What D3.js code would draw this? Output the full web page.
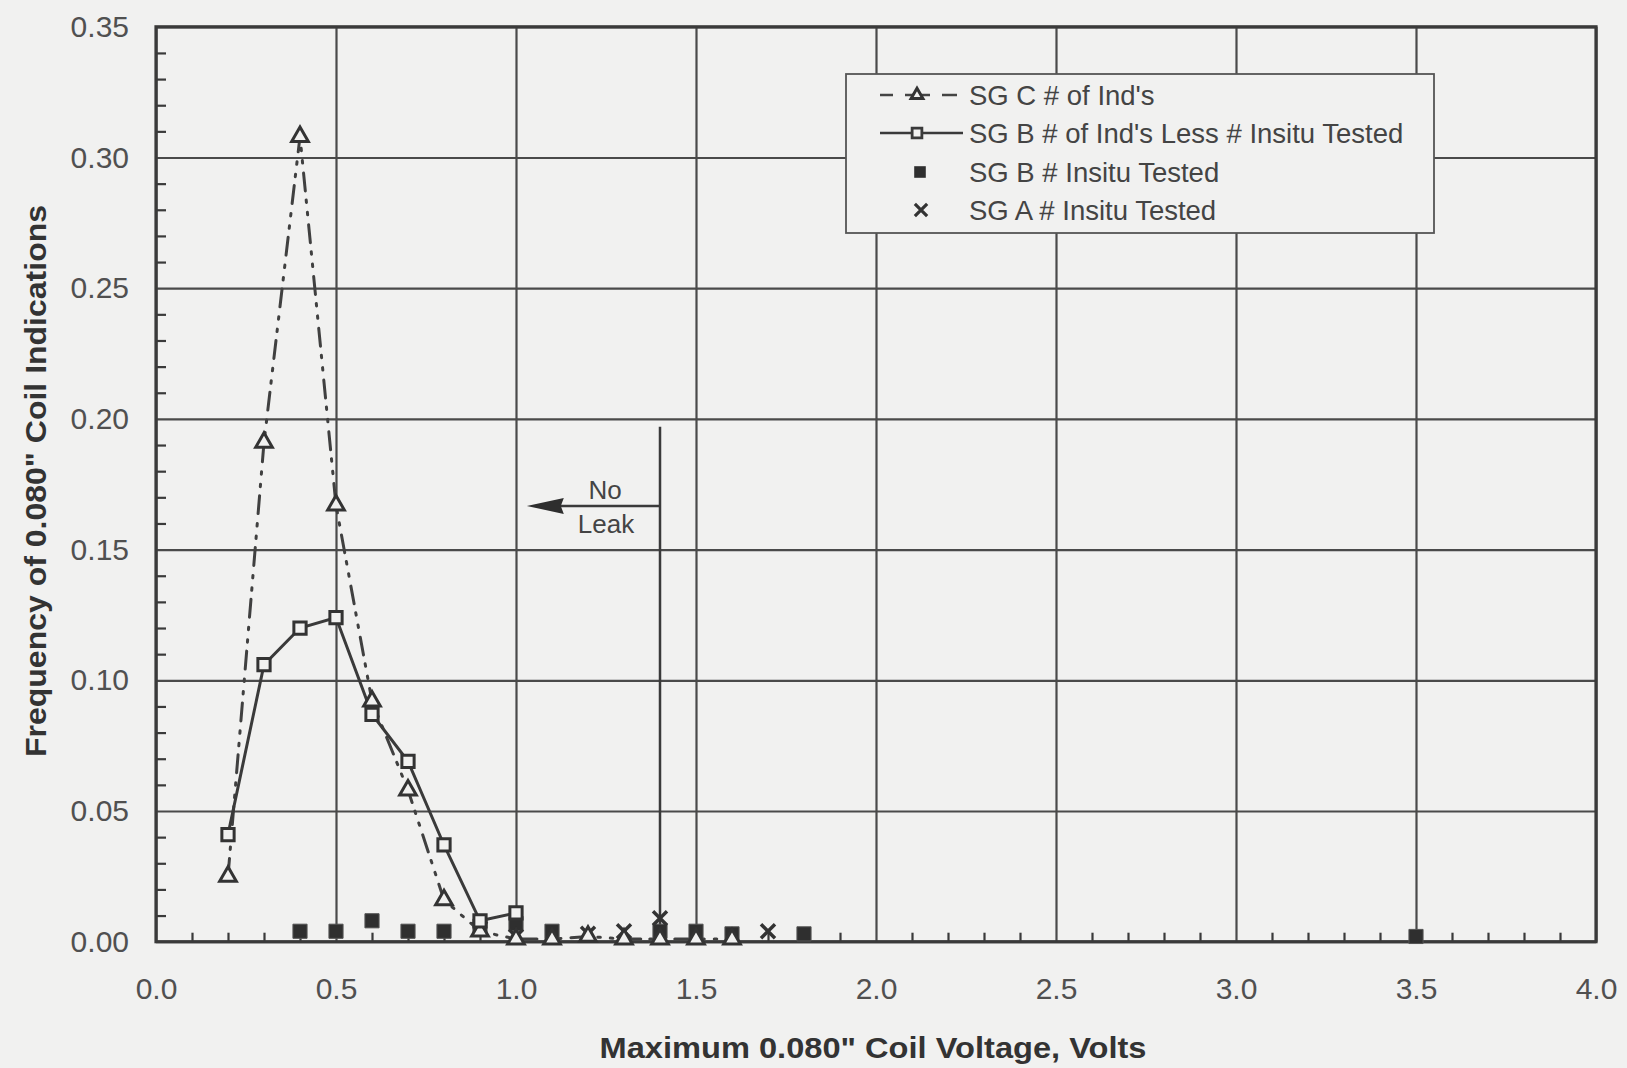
<!DOCTYPE html>
<html>
<head>
<meta charset="utf-8">
<script src="https://cdn.jsdelivr.net/npm/d3@7"></script>
<style>
  body { margin: 0; background: #f1f1f0; }
  svg { display: block; }
  text { font-family: "Liberation Sans", Arial, sans-serif; }
</style>
</head>
<body>
<div id="graphContainer"></div>
<script>
// frequency of 0.080" coil indications vs max voltage

// data
var sgCVolts = [0.2, 0.3, 0.4, 0.5, 0.6, 0.7, 0.8, 0.9, 1.0, 1.1, 1.2, 1.3, 1.4, 1.5, 1.6];
var sgCFreq  = [0.025, 0.191, 0.308, 0.167, 0.092, 0.058, 0.016, 0.004, 0.001, 0.001, 0.002, 0.001, 0.001, 0.001, 0.001];

var sgBVolts = [0.2, 0.3, 0.4, 0.5, 0.6, 0.7, 0.8, 0.9, 1.0];
var sgBFreq  = [0.041, 0.106, 0.120, 0.124, 0.087, 0.069, 0.037, 0.008, 0.011];

var sgBInsituVolts = [0.4, 0.5, 0.6, 0.7, 0.8, 0.9, 1.0, 1.1, 1.4, 1.5, 1.6, 1.8, 3.5];
var sgBInsituFreq  = [0.004, 0.004, 0.008, 0.004, 0.004, 0.006, 0.007, 0.004, 0.004, 0.004, 0.003, 0.003, 0.002];

var sgAInsituVolts = [0.9, 1.0, 1.2, 1.3, 1.4, 1.7];
var sgAInsituFreq  = [0.005, 0.002, 0.003, 0.004, 0.009, 0.004];

var xTicks = [0.0, 0.5, 1.0, 1.5, 2.0, 2.5, 3.0, 3.5, 4.0];
var yTicks = [0.00, 0.05, 0.10, 0.15, 0.20, 0.25, 0.30, 0.35];

var legendLabels = [
    "SG C # of Ind's",
    "SG B # of Ind's Less # Insitu Tested",
    "SG B # Insitu Tested",
    "SG A # Insitu Tested"
];

// no leak annotation
var noLeakVolts = 1.4;
var noLeakTop = 0.197;
var noLeakArrowY = 0.1667;
var noLeakArrowTo = 1.03;

var W = 1627, H = 1068;
var pLeft = 156, pRight = 1596, pTop = 26.8, pBottom = 941.7;
var ink = "#3a3a3a", bg = "#f1f1f0";

var svg = d3.select("#graphContainer").append("svg")
    .attr("width", W)
    .attr("height", H);

svg.append("rect").attr("width", W).attr("height", H).attr("fill", bg);

var x = d3.scaleLinear().domain([0, 4]).range([pLeft, pRight]);
var y = d3.scaleLinear().domain([0, 0.35]).range([pBottom, pTop]);

// 
// grid
// 
var grid = svg.append("g");
grid.append("g")
    .attr("transform", "translate(0," + pBottom + ")")
    .call(d3.axisBottom(x).tickValues(xTicks).tickSize(-(pBottom - pTop)).tickFormat(""))
    .call(function(g) { g.select(".domain").remove(); })
    .selectAll("line").attr("stroke", "#4a4a4a").attr("stroke-width", 2.2);
grid.append("g")
    .attr("transform", "translate(" + pLeft + ",0)")
    .call(d3.axisLeft(y).tickValues(yTicks).tickSize(-(pRight - pLeft)).tickFormat(""))
    .call(function(g) { g.select(".domain").remove(); })
    .selectAll("line").attr("stroke", "#4a4a4a").attr("stroke-width", 2.2);

// minor ticks (inside)
var xMinor = d3.range(0, 40).map(function(i) { return i / 10; }).filter(function(v, i) { return i % 5 != 0; });
var yMinor = d3.range(0, 35).map(function(i) { return i / 100; }).filter(function(v, i) { return i % 5 != 0; });
svg.append("g")
    .attr("transform", "translate(0," + pBottom + ")")
    .call(d3.axisTop(x).tickValues(xMinor).tickSize(9).tickFormat(""))
    .call(function(g) { g.select(".domain").remove(); })
    .selectAll("line").attr("stroke", ink).attr("stroke-width", 2.2);
svg.append("g")
    .attr("transform", "translate(" + pLeft + ",0)")
    .call(d3.axisRight(y).tickValues(yMinor).tickSize(10).tickFormat(""))
    .call(function(g) { g.select(".domain").remove(); })
    .selectAll("line").attr("stroke", ink).attr("stroke-width", 2.2);

// frame
svg.append("rect")
    .attr("x", pLeft).attr("y", pTop)
    .attr("width", pRight - pLeft).attr("height", pBottom - pTop)
    .attr("fill", "none").attr("stroke", ink).attr("stroke-width", 3.2);

// tick labels
var xAxis = svg.append("g")
    .attr("transform", "translate(0," + pBottom + ")")
    .call(d3.axisBottom(x).tickValues(xTicks).tickSize(0).tickPadding(47).tickFormat(d3.format(".1f")));
xAxis.select(".domain").remove();
xAxis.selectAll("text")
    .attr("dy", "0.35em")
    .attr("font-size", 30)
    .attr("font-family", "'Liberation Sans', Arial, sans-serif")
    .attr("fill", "#505050");

var yAxis = svg.append("g")
    .attr("transform", "translate(" + pLeft + ",0)")
    .call(d3.axisLeft(y).tickValues(yTicks).tickSize(0).tickPadding(27).tickFormat(d3.format(".2f")));
yAxis.select(".domain").remove();
yAxis.selectAll("text")
    .attr("font-size", 30)
    .attr("font-family", "'Liberation Sans', Arial, sans-serif")
    .attr("fill", "#505050");

// axis titles
svg.append("text")
    .attr("x", 873).attr("y", 1058)
    .attr("text-anchor", "middle")
    .attr("font-size", 29).attr("font-weight", "bold")
    .attr("font-family", "'Liberation Sans Narrow', 'Liberation Sans', Arial, sans-serif")
    .attr("textLength", 547).attr("lengthAdjust", "spacingAndGlyphs")
    .attr("fill", "#333")
    .text("Maximum 0.080\" Coil Voltage, Volts");

svg.append("text")
    .attr("transform", "translate(46,481) rotate(-90)")
    .attr("text-anchor", "middle")
    .attr("font-size", 29).attr("font-weight", "bold")
    .attr("font-family", "'Liberation Sans Narrow', 'Liberation Sans', Arial, sans-serif")
    .attr("textLength", 552).attr("lengthAdjust", "spacingAndGlyphs")
    .attr("fill", "#333")
    .text("Frequency of 0.080\" Coil Indications");

// 
// no leak annotation
// 
svg.append("line")
    .attr("x1", x(noLeakVolts)).attr("x2", x(noLeakVolts))
    .attr("y1", y(noLeakTop)).attr("y2", y(0))
    .attr("stroke", ink).attr("stroke-width", 2.5);
svg.append("line")
    .attr("x1", x(noLeakVolts)).attr("x2", x(noLeakArrowTo) + 30)
    .attr("y1", y(noLeakArrowY)).attr("y2", y(noLeakArrowY))
    .attr("stroke", ink).attr("stroke-width", 2.5);
var ax = x(noLeakArrowTo), ay = y(noLeakArrowY);
svg.append("path")
    .attr("d", "M" + ax + "," + ay + "L" + (ax + 37) + "," + (ay - 8) + "L" + (ax + 34) + "," + ay + "L" + (ax + 37) + "," + (ay + 8) + "Z")
    .attr("fill", "#2e2e2e");
svg.append("text")
    .attr("x", 605).attr("y", 499).attr("text-anchor", "middle")
    .attr("font-size", 26).attr("fill", "#444").text("No");
svg.append("text")
    .attr("x", 606).attr("y", 533).attr("text-anchor", "middle")
    .attr("font-size", 26).attr("fill", "#444").text("Leak");

// 
// series
// 
var sgC = sgCVolts.map(function(v, i) { return [v, sgCFreq[i]]; });
var sgB = sgBVolts.map(function(v, i) { return [v, sgBFreq[i]]; });
var sgBIns = sgBInsituVolts.map(function(v, i) { return [v, sgBInsituFreq[i]]; });
var sgAIns = sgAInsituVolts.map(function(v, i) { return [v, sgAInsituFreq[i]]; });

var line = d3.line()
    .x(function(d) { return x(d[0]); })
    .y(function(d) { return y(d[1]); });

svg.append("path")
    .datum(sgC)
    .attr("d", line)
    .attr("fill", "none")
    .attr("stroke", "#404040").attr("stroke-width", 3)
    .attr("stroke-dasharray", "18,9,2.5,10,2.5,10")
    .attr("stroke-linecap", "round");

svg.append("path")
    .datum(sgB)
    .attr("d", line)
    .attr("fill", "none")
    .attr("stroke", ink).attr("stroke-width", 3);

var tri = d3.symbol().type(d3.symbolTriangle).size(120);
var sq = d3.symbol().type(d3.symbolSquare).size(150);
var sqFill = d3.symbol().type(d3.symbolSquare).size(200);
var cross = d3.symbol().type(d3.symbolX).size(130);

svg.append("g").selectAll("path")
    .data(sgBIns).enter().append("path")
    .attr("transform", function(d) { return "translate(" + x(d[0]) + "," + y(d[1]) + ")"; })
    .attr("d", sqFill)
    .attr("fill", "#2f2f2f").attr("stroke", "#555").attr("stroke-width", 1);

svg.append("g").selectAll("path")
    .data(sgAIns).enter().append("path")
    .attr("transform", function(d) { return "translate(" + x(d[0]) + "," + y(d[1]) + ")"; })
    .attr("d", cross)
    .attr("fill", "#333").attr("stroke", "#333").attr("stroke-width", 3.5);

svg.append("g").selectAll("path")
    .data(sgC).enter().append("path")
    .attr("transform", function(d) { return "translate(" + x(d[0]) + "," + y(d[1]) + ")"; })
    .attr("d", tri)
    .attr("fill", bg).attr("stroke", "#333").attr("stroke-width", 3);

svg.append("g").selectAll("path")
    .data(sgB).enter().append("path")
    .attr("transform", function(d) { return "translate(" + x(d[0]) + "," + y(d[1]) + ")"; })
    .attr("d", sq)
    .attr("fill", bg).attr("stroke", "#333").attr("stroke-width", 3);

// 
// legend
// 
var legend = svg.append("g");
legend.append("rect")
    .attr("x", 846).attr("y", 74)
    .attr("width", 588).attr("height", 159)
    .attr("fill", bg).attr("stroke", "#555").attr("stroke-width", 1.8);

var rowY = [95, 133, 172, 210];
legendLabels.forEach(function(label, i) {
    legend.append("text")
        .attr("x", 969).attr("y", rowY[i])
        .attr("dy", "0.35em")
        .attr("font-size", 27.5).attr("fill", "#444")
        .text(label);
});

// row 1: - triangle -
legend.append("line").attr("x1", 880).attr("x2", 893).attr("y1", rowY[0]).attr("y2", rowY[0])
    .attr("stroke", "#444").attr("stroke-width", 2.5);
legend.append("line").attr("x1", 942).attr("x2", 957).attr("y1", rowY[0]).attr("y2", rowY[0])
    .attr("stroke", "#444").attr("stroke-width", 2.5);
legend.append("line").attr("x1", 905).attr("x2", 930).attr("y1", rowY[0]).attr("y2", rowY[0])
    .attr("stroke", "#444").attr("stroke-width", 2.5);
legend.append("path")
    .attr("transform", "translate(917," + rowY[0] + ")")
    .attr("d", d3.symbol().type(d3.symbolTriangle).size(60))
    .attr("fill", bg).attr("stroke", "#333").attr("stroke-width", 3);

// row 2: line with square
legend.append("line").attr("x1", 880).attr("x2", 963).attr("y1", rowY[1]).attr("y2", rowY[1])
    .attr("stroke", ink).attr("stroke-width", 2.5);
legend.append("path")
    .attr("transform", "translate(917," + rowY[1] + ")")
    .attr("d", d3.symbol().type(d3.symbolSquare).size(95))
    .attr("fill", bg).attr("stroke", ink).attr("stroke-width", 2.8);

// row 3: filled square
legend.append("path")
    .attr("transform", "translate(920," + rowY[2] + ")")
    .attr("d", d3.symbol().type(d3.symbolSquare).size(120))
    .attr("fill", "#2f2f2f").attr("stroke", "#555").attr("stroke-width", 1);

// row 4: cross
legend.append("path")
    .attr("transform", "translate(921," + rowY[3] + ")")
    .attr("d", d3.symbol().type(d3.symbolX).size(100))
    .attr("fill", "#333").attr("stroke", "#333").attr("stroke-width", 3.2);
</script>
</body>
</html>
